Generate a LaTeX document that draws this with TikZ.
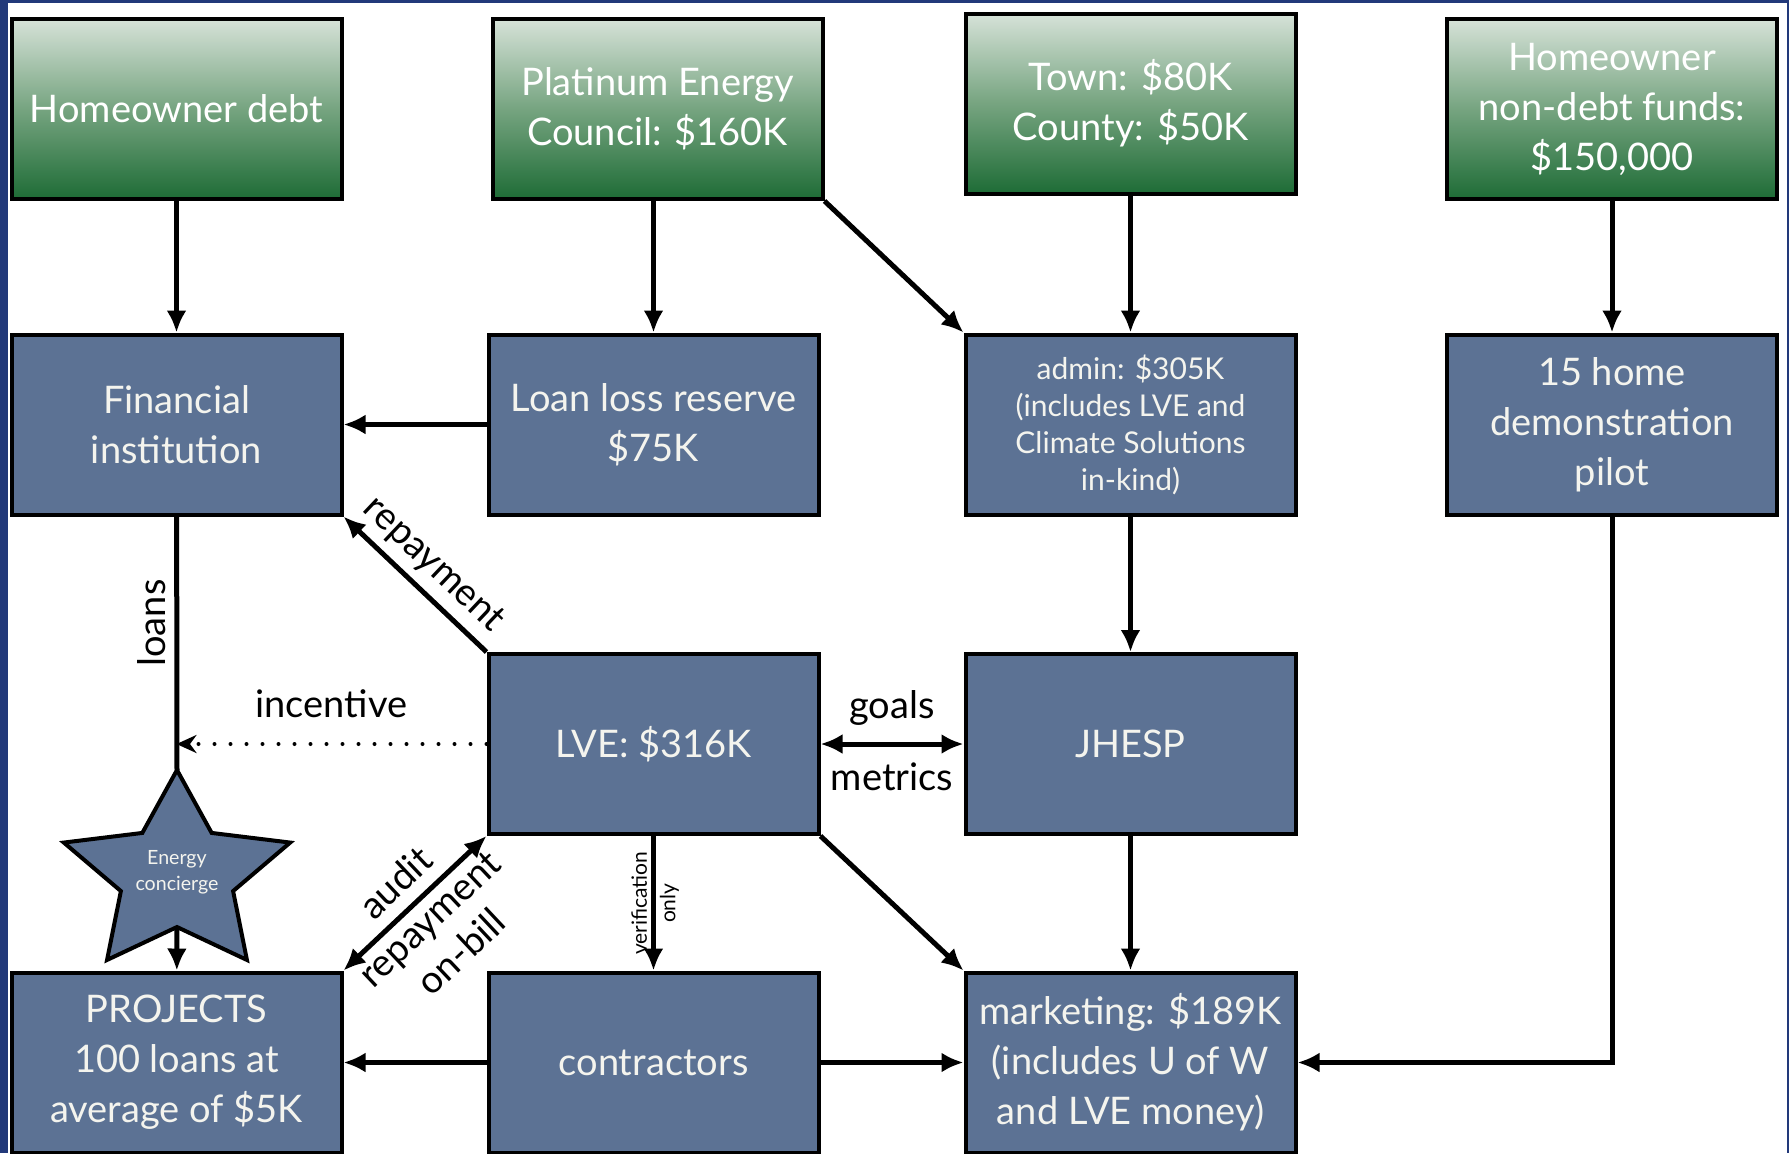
\documentclass[tikz,border=0pt]{standalone}
\usepackage{fontspec}
\setmainfont{Lato}
\usetikzlibrary{arrows.meta}
\definecolor{slate}{RGB}{92,114,148}
\definecolor{frame}{RGB}{34,57,122}
\definecolor{leaf}{RGB}{30,108,54}
\definecolor{mint}{RGB}{118,164,128}
\definecolor{paper}{RGB}{244,244,238}
\tikzstyle{box}=[draw=black, line width=2pt, fill=slate, text=paper, minimum width=165pt, minimum height=90pt, align=center, inner sep=2pt, font=\fontsize{19}{25}\selectfont]
\tikzstyle{src}=[box, text=white, top color={rgb,255:red,214;green,226;blue,216}, bottom color=leaf, middle color=mint]
\tikzstyle{arr}=[line width=2.5pt, -{Latex[length=11pt,width=10pt]}]
\tikzstyle{dbl}=[line width=2.5pt, {Latex[length=11pt,width=10pt]}-{Latex[length=11pt,width=10pt]}]
\tikzstyle{lbl}=[font=\fontsize{19}{22}\selectfont, inner sep=2pt]
\tikzstyle{tiny}=[font=\fontsize{10.5}{12}\selectfont, inner sep=2pt]
\begin{document}
\begin{tikzpicture}[x=.5pt, y=-.5pt]
\useasboundingbox (0,0) rectangle (1789,1153);
\fill[frame] (0,0) rectangle (1789,1153);
\fill[white] (8,3) rectangle (1787,1153);

\node[src] (hdebt) at (176.5,109) {Homeowner debt};
\node[src] (plat) at (657.5,109) {Platinum Energy\\Council: \$160K};
\node[src] (town) at (1130.5,103.5) {Town: \$80K\\County: \$50K};
\node[src] (nondebt) at (1612,109) {Homeowner\\non-debt funds:\\\$150,000};

\node[box] (fin) at (176.5,424.5) {Financial\\institution};
\node[box] (llr) at (653.5,424.5) {Loan loss reserve\\\$75K};
\node[box, font=\fontsize{15}{18.5}\selectfont] (admin) at (1130.5,424.5) {admin: \$305K\\(includes LVE and\\Climate Solutions\\in-kind)};
\node[box] (home) at (1612,424.5) {15 home\\demonstration\\pilot};
\node[box] (lve) at (653.5,744) {LVE: \$316K};
\node[box] (jhesp) at (1130.5,744) {JHESP};
\node[box] (proj) at (176.5,1062.5) {PROJECTS\\100 loans at\\average of \$5K};
\node[box] (contr) at (653.5,1062.5) {contractors};
\node[box] (mkt) at (1130.5,1062.5) {marketing: \$189K\\(includes U of W\\and LVE money)};

\begin{scope}[shift={(177,875)}]
\draw[line width=2pt, fill=slate] (-90:119 and 105)
  \foreach \a/\rx/\ry in {-54/59/52, -18/119/105, 18/59/52, 54/119/105, 90/59/52, 126/119/105, 162/59/52, 198/119/105, 234/59/52} {-- (\a:{\rx} and {\ry})} -- cycle;
\end{scope}
\node[text=paper, align=center, font=\fontsize{9.8}{13}\selectfont] (conc) at (177,872) {Energy\\concierge};
\coordinate (conctop) at (177,770);
\coordinate (concbot) at (177,927);

\draw[arr] (hdebt) -- (fin);
\draw[arr] (plat.south -| llr) -- (llr);
\draw[arr] (plat.south east) -- (admin.north west);
\draw[arr] (town) -- (admin);
\draw[arr] (nondebt) -- (home);
\draw[arr] (llr) -- (fin);
\draw[arr] (lve.north west) -- node[lbl, sloped, above=2pt] {repayment} (fin.south east);
\draw[line width=2.5pt] (fin) -- node[lbl, rotate=90, above=2pt, pos=.42] {loans} (conctop);
\draw[line width=2pt, dash pattern=on 0pt off 8pt, line cap=round, -{Stealth[length=10pt,width=9pt]}] (lve) -- node[lbl, above=10pt] {incentive} (lve -| fin);
\draw[arr] (concbot) -- (proj);
\draw[dbl] (proj.north east) -- node[lbl, sloped, above=4pt] {audit} node[lbl, sloped, below=1pt] {repayment} node[lbl, sloped, below=23pt] {on-bill} (lve.south west);
\draw[arr] (lve) -- node[tiny, rotate=90, above] {verification} node[tiny, rotate=90, below] {only} (contr);
\draw[arr] (lve.south east) -- (mkt.north west);
\draw[dbl] (lve) -- node[lbl, above=6pt] {goals} node[lbl, below=6pt] {metrics} (jhesp);
\draw[arr] (admin) -- (jhesp);
\draw[arr] (jhesp) -- (mkt);
\draw[arr] (contr) -- (proj);
\draw[arr] (contr) -- (mkt);
\draw[arr] (home) |- (mkt);
\end{tikzpicture}
\end{document}
